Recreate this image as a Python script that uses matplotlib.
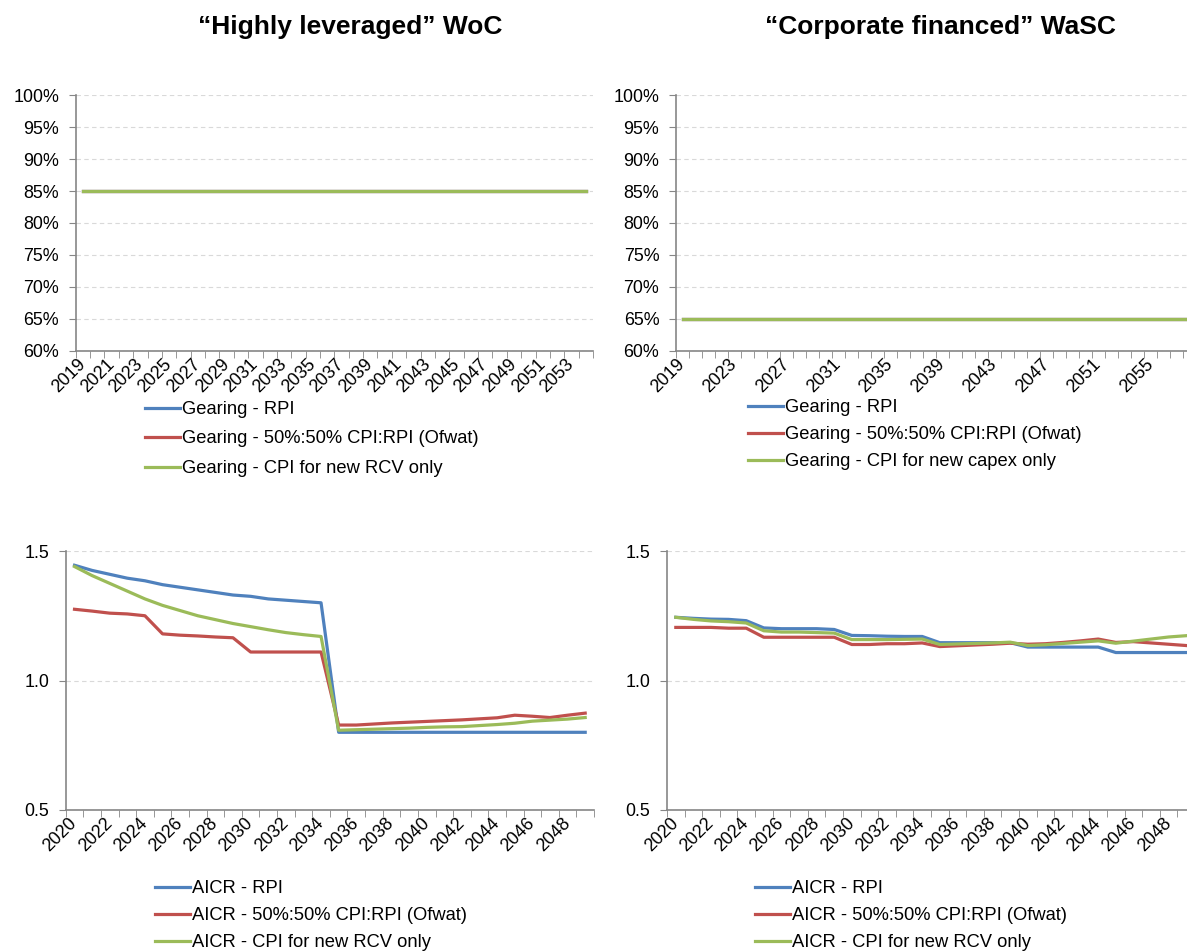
import numpy as np
import matplotlib.pyplot as plt
from matplotlib.ticker import FixedLocator, FixedFormatter, FuncFormatter

plt.rcParams['font.family'] = ['Liberation Sans', 'DejaVu Sans']

BLUE = '#4F81BD'
RED = '#C0504D'
GREEN = '#9BBB59'
AXIS_GREY = '#868686'

# gearing, highly leveraged WoC
woc_years = list(range(2019, 2055))
woc_gear_rpi = [0.85] * len(woc_years)
woc_gear_5050 = [0.85] * len(woc_years)
woc_gear_cpi = [0.85] * len(woc_years)

# gearing, corporate financed WaSC
wasc_years = list(range(2019, 2059))
wasc_gear_rpi = [0.65] * len(wasc_years)
wasc_gear_5050 = [0.65] * len(wasc_years)
wasc_gear_cpi = [0.65] * len(wasc_years)

# AICR years (both)
aicr_years = list(range(2020, 2050))

woc_aicr_rpi = [1.445, 1.425, 1.41, 1.395, 1.385, 1.37, 1.36, 1.35, 1.34, 1.33,
                1.325, 1.315, 1.31, 1.305, 1.30,
                0.80, 0.80, 0.80, 0.80, 0.80, 0.80, 0.80, 0.80, 0.80, 0.80,
                0.80, 0.80, 0.80, 0.80, 0.80]
woc_aicr_5050 = [1.275, 1.268, 1.26, 1.257, 1.25, 1.18, 1.175, 1.172, 1.168, 1.165,
                 1.11, 1.11, 1.11, 1.11, 1.11,
                 0.828, 0.828, 0.832, 0.836, 0.839, 0.842, 0.845, 0.848, 0.852, 0.856,
                 0.866, 0.862, 0.857, 0.866, 0.874]
woc_aicr_cpi = [1.44, 1.405, 1.375, 1.345, 1.315, 1.29, 1.27, 1.25, 1.235, 1.22,
                1.208, 1.196, 1.185, 1.177, 1.17,
                0.808, 0.81, 0.812, 0.814, 0.816, 0.819, 0.821, 0.822, 0.826, 0.83,
                0.835, 0.843, 0.847, 0.851, 0.857]

wasc_aicr_rpi = [1.244, 1.24, 1.237, 1.236, 1.231, 1.203, 1.20, 1.20, 1.20, 1.197,
                 1.174, 1.173, 1.171, 1.17, 1.17, 1.146, 1.146, 1.146, 1.146, 1.146,
                 1.129, 1.129, 1.129, 1.129, 1.129, 1.108, 1.108, 1.108, 1.108, 1.108]
wasc_aicr_5050 = [1.205, 1.205, 1.205, 1.202, 1.202, 1.167, 1.167, 1.167, 1.167, 1.167,
                  1.139, 1.139, 1.142, 1.142, 1.145, 1.131, 1.134, 1.137, 1.14, 1.144,
                  1.14, 1.142, 1.147, 1.153, 1.160, 1.147, 1.15, 1.145, 1.14, 1.135]
wasc_aicr_cpi = [1.244, 1.236, 1.23, 1.227, 1.222, 1.192, 1.187, 1.187, 1.185, 1.183,
                 1.158, 1.158, 1.158, 1.159, 1.16, 1.139, 1.141, 1.143, 1.145, 1.148,
                 1.135, 1.138, 1.143, 1.148, 1.153, 1.144, 1.152, 1.16, 1.168, 1.173]

gear_labels_woc = ['Gearing - RPI', 'Gearing - 50%:50% CPI:RPI (Ofwat)',
                   'Gearing - CPI for new RCV only']
gear_labels_wasc = ['Gearing - RPI', 'Gearing - 50%:50% CPI:RPI (Ofwat)',
                    'Gearing - CPI for new capex only']
aicr_labels = ['AICR - RPI', 'AICR - 50%:50% CPI:RPI (Ofwat)',
               'AICR - CPI for new RCV only']

W, H = 1187, 951
fig = plt.figure(figsize=(W / 100, H / 100), dpi=100)


def px_axes(x0, x1, y0, y1):
    # axes from pixel box (top-left origin)
    return fig.add_axes([x0 / W, 1 - y1 / H, (x1 - x0) / W, (y1 - y0) / H])


def style_axes(ax, years, step, ylim, yticks, yfmt):
    n = len(years)
    ax.set_xlim(-0.5, n - 0.5)
    ax.set_ylim(*ylim)
    ax.set_yticks(yticks)
    ax.yaxis.set_major_formatter(FuncFormatter(yfmt))
    centers = list(range(0, n, step))
    ax.xaxis.set_major_locator(FixedLocator(centers))
    ax.xaxis.set_major_formatter(FixedFormatter([str(years[i]) for i in centers]))
    ax.xaxis.set_minor_locator(FixedLocator([i - 0.5 for i in range(n + 1)]))
    ax.tick_params(axis='x', which='major', length=0, pad=8, labelsize=12.9)
    ax.tick_params(axis='x', which='minor', length=5, color=AXIS_GREY, direction='out')
    ax.tick_params(axis='y', length=5, color=AXIS_GREY, labelsize=12.9, pad=7)
    for lab in ax.get_xticklabels():
        lab.set_rotation(45)
        lab.set_ha('right')
        lab.set_va('center')
        lab.set_rotation_mode('anchor')
    for s in ['top', 'right']:
        ax.spines[s].set_visible(False)
    for s in ['left', 'bottom']:
        ax.spines[s].set_color(AXIS_GREY)
        ax.spines[s].set_linewidth(1.2)
    ax.grid(axis='y', color='#D9D9D9', linestyle=(0, (4, 3)), linewidth=0.8)
    ax.set_axisbelow(True)


def draw(ax, series, labels):
    x = np.arange(len(series[0]))
    for vals, col, lab in zip(series, [BLUE, RED, GREEN], labels):
        ax.plot(x, vals, color=col, lw=2.3, label=lab, solid_joinstyle='round')


pct = lambda v, p: '{:.0f}%'.format(v * 100)
dec = lambda v, p: '{:.1f}'.format(v)

ax1 = px_axes(75.7, 593, 95, 351)
draw(ax1, [woc_gear_rpi, woc_gear_5050, woc_gear_cpi], gear_labels_woc)
style_axes(ax1, woc_years, 2, (0.6, 1.0), np.arange(0.6, 1.001, 0.05), pct)

ax2 = px_axes(676, 1196, 95, 351)
draw(ax2, [wasc_gear_rpi, wasc_gear_5050, wasc_gear_cpi], gear_labels_wasc)
style_axes(ax2, wasc_years, 4, (0.6, 1.0), np.arange(0.6, 1.001, 0.05), pct)

ax3 = px_axes(65.7, 594, 551, 810)
draw(ax3, [woc_aicr_rpi, woc_aicr_5050, woc_aicr_cpi], aicr_labels)
style_axes(ax3, aicr_years, 2, (0.5, 1.5), [0.5, 1.0, 1.5], dec)

ax4 = px_axes(667, 1195, 551, 810)
draw(ax4, [wasc_aicr_rpi, wasc_aicr_5050, wasc_aicr_cpi], aicr_labels)
style_axes(ax4, aicr_years, 2, (0.5, 1.5), [0.5, 1.0, 1.5], dec)

fig.text(350 / W, 1 - 27 / H, '\u201cHighly leveraged\u201d WoC', ha='center', va='center',
         fontsize=19, fontweight='bold')
fig.text(940 / W, 1 - 27 / H, '\u201cCorporate financed\u201d WaSC', ha='center', va='center',
         fontsize=19, fontweight='bold')


def legend(ax, x, y, spacing):
    ax.legend(loc='upper left', bbox_to_anchor=(x / W, 1 - y / H),
              bbox_transform=fig.transFigure, frameon=False, fontsize=13.2,
              handlelength=1.9, handletextpad=0.1, labelspacing=spacing,
              borderaxespad=0, borderpad=0)


legend(ax1, 145, 401, 0.68)
legend(ax2, 748, 399, 0.55)
legend(ax3, 155, 880, 0.55)
legend(ax4, 755, 880, 0.55)

fig.savefig('out.png', dpi=100)
